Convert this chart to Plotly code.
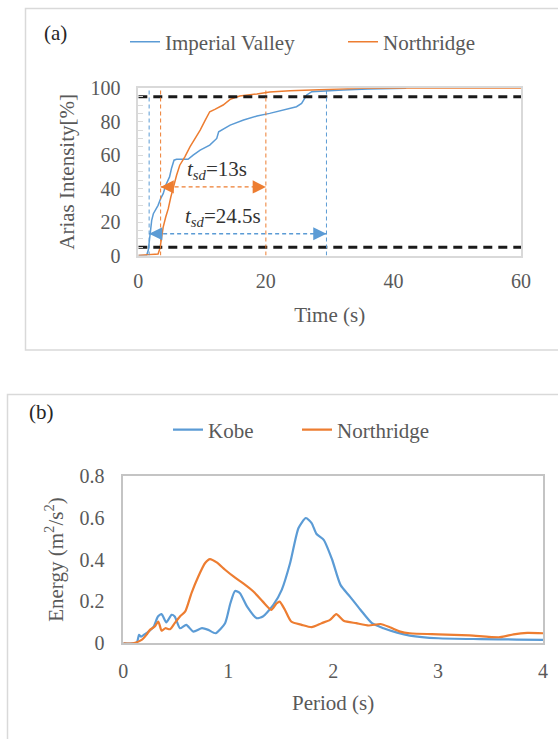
import plotly.graph_objects as go

# ---------------- data: panel (a) cumulative Arias intensity ----------------
iv_time = [0, 1.3, 1.57, 1.73, 1.94, 2.1, 2.36, 2.77, 3.1, 3.5, 3.9, 4.3, 4.9, 5.2, 5.6, 6.0,
           7.8, 8.6, 9.7, 11.2, 12.3, 12.6, 14.4, 16.5, 18.6, 20.6, 22.7, 24.8, 25.6, 26.4,
           27.2, 29.5, 32.1, 36, 42]
iv_arias = [0, 0, 3.3, 9.3, 15, 21, 25, 28, 30, 34, 37, 42, 47, 52, 57, 57.5,
            57.5, 60, 63, 66, 70, 74, 78, 81, 83.4, 85, 87, 89, 91, 96,
            98, 98.6, 99, 99.6, 100]
nr_time = [0, 3.1, 3.4, 3.66, 3.9, 4.3, 4.7, 5.1, 5.5, 6.0, 6.5, 7.3, 8.1, 8.9, 9.7, 10.5,
           11.2, 12.0, 13.3, 14.4, 15.9, 18.6, 20.6, 23.8, 26.9, 30, 35, 60]
nr_arias = [0, 0.9, 4.3, 11, 17, 23, 28, 35, 41, 48, 54, 59, 65, 70, 75, 81,
            86, 87.4, 90, 93.4, 95.4, 96.6, 97.8, 98.6, 99, 99.4, 100, 100]
thresholds = [5, 95]
time_range = [0, 60]
iv_bounds = [1.7, 29.5]
nr_bounds = [3.5, 20]
iv_arrow_level = 13
nr_arrow_level = 41
iv_label = "<i>t</i><sub><i>sd</i></sub>=24.5s"
nr_label = "<i>t</i><sub><i>sd</i></sub>=13s"
iv_label_pos = [13.3, 23]
nr_label_pos = [12.3, 51]

# ---------------- data: panel (b) energy spectra ----------------
kobe_period = [0, 0.127, 0.15, 0.17, 0.21, 0.24, 0.29, 0.33, 0.365, 0.41, 0.46, 0.49, 0.54, 0.60,
               0.667, 0.75, 0.81, 0.88, 0.97, 1.02, 1.065, 1.11, 1.18, 1.27, 1.33, 1.43, 1.51,
               1.59, 1.67, 1.74, 1.795, 1.84, 1.91, 1.99, 2.07, 2.16, 2.26, 2.37, 2.48, 2.61,
               2.73, 3.0, 3.4, 3.75, 4.0]
kobe_energy = [0, 0.003, 0.04, 0.032, 0.045, 0.056, 0.08, 0.128, 0.139, 0.10, 0.136, 0.128, 0.072,
               0.088, 0.056, 0.072, 0.064, 0.048, 0.096, 0.19, 0.25, 0.24, 0.175, 0.12, 0.128,
               0.183, 0.255, 0.383, 0.55, 0.598, 0.574, 0.523, 0.494, 0.40, 0.279, 0.223, 0.16,
               0.096, 0.072, 0.051, 0.037, 0.024, 0.02, 0.018, 0.016]
nrb_period = [0, 0.095, 0.175, 0.22, 0.254, 0.30, 0.334, 0.365, 0.40, 0.445, 0.49, 0.54, 0.59,
              0.65, 0.715, 0.78, 0.826, 0.89, 0.97, 1.05, 1.14, 1.24, 1.33, 1.41, 1.46, 1.49,
              1.54, 1.60, 1.70, 1.795, 1.89, 1.97, 2.03, 2.10, 2.22, 2.34, 2.45, 2.54, 2.64,
              2.73, 3.0, 3.3, 3.59, 3.72, 3.85, 4.0]
nrb_energy = [0, 0.0, 0.016, 0.04, 0.064, 0.08, 0.104, 0.06, 0.072, 0.067, 0.096, 0.128, 0.152,
              0.24, 0.319, 0.383, 0.402, 0.386, 0.351, 0.319, 0.287, 0.247, 0.199, 0.16, 0.19,
              0.199, 0.16, 0.104, 0.088, 0.077, 0.096, 0.112, 0.139, 0.108, 0.096, 0.085,
              0.092, 0.077, 0.056, 0.048, 0.043, 0.038, 0.029, 0.043, 0.05, 0.048]

# ---------------- styling ----------------
W, H = 558, 739
def px(x):
    return x / W
def py(y):
    return 1 - y / H

BLUE = "#5B9BD5"
ORANGE = "#ED7D31"
TXT = "#595959"
FONT = "Liberation Serif, Times New Roman, serif"

fig = go.Figure()

# panel (a)
fig.add_trace(go.Scatter(x=iv_time, y=iv_arias, mode="lines", name="Imperial Valley",
                         line=dict(color=BLUE, width=1.5), legend="legend", xaxis="x", yaxis="y"))
fig.add_trace(go.Scatter(x=nr_time, y=nr_arias, mode="lines", name="Northridge",
                         line=dict(color=ORANGE, width=1.5), legend="legend3", xaxis="x", yaxis="y"))
for th in thresholds:
    fig.add_trace(go.Scatter(x=time_range, y=[th, th], mode="lines", showlegend=False,
                             line=dict(color="#1a1a1a", width=3, dash="9px,6px"),
                             xaxis="x", yaxis="y", hoverinfo="skip"))
for bounds, col in ((iv_bounds, BLUE), (nr_bounds, ORANGE)):
    for b in bounds:
        fig.add_trace(go.Scatter(x=[b, b], y=[0, 100], mode="lines", showlegend=False,
                                 line=dict(color=col, width=1, dash="4px,3px"),
                                 xaxis="x", yaxis="y", hoverinfo="skip"))
for bounds, lvl, col in ((iv_bounds, iv_arrow_level, BLUE), (nr_bounds, nr_arrow_level, ORANGE)):
    fig.add_trace(go.Scatter(x=bounds, y=[lvl, lvl], mode="lines", showlegend=False,
                             line=dict(color=col, width=1.3, dash="4px,3px"),
                             xaxis="x", yaxis="y", hoverinfo="skip"))

annotations = []
for bounds, lvl, col in ((iv_bounds, iv_arrow_level, BLUE), (nr_bounds, nr_arrow_level, ORANGE)):
    annotations.append(dict(x=bounds[0], y=lvl, xref="x", yref="y", ax=13, ay=0, text="",
                            showarrow=True, arrowhead=2, arrowsize=1.2, arrowwidth=2.2,
                            arrowcolor=col, standoff=0))
    annotations.append(dict(x=bounds[1], y=lvl, xref="x", yref="y", ax=-13, ay=0, text="",
                            showarrow=True, arrowhead=2, arrowsize=1.2, arrowwidth=2.2,
                            arrowcolor=col, standoff=0))
for lab, pos in ((iv_label, iv_label_pos), (nr_label, nr_label_pos)):
    annotations.append(dict(x=pos[0], y=pos[1], xref="x", yref="y", text=lab, showarrow=False,
                            font=dict(family=FONT, size=21, color="#333333")))
annotations.append(dict(x=px(42), y=py(33), xref="paper", yref="paper", text="(a)",
                        showarrow=False, xanchor="left", yanchor="middle",
                        font=dict(family=FONT, size=21, color="#262626")))
annotations.append(dict(x=px(27), y=py(412), xref="paper", yref="paper", text="(b)",
                        showarrow=False, xanchor="left", yanchor="middle",
                        font=dict(family=FONT, size=21, color="#262626")))

# panel (b)
fig.add_trace(go.Scatter(x=kobe_period, y=kobe_energy, mode="lines", name="Kobe",
                         line=dict(color=BLUE, width=2.2, shape="spline", smoothing=0.6),
                         legend="legend2", xaxis="x2", yaxis="y2"))
fig.add_trace(go.Scatter(x=nrb_period, y=nrb_energy, mode="lines", name="Northridge",
                         line=dict(color=ORANGE, width=2.2, shape="spline", smoothing=0.6),
                         legend="legend4", xaxis="x2", yaxis="y2"))

tickfont = dict(family=FONT, size=20, color=TXT)
titlefont = dict(family=FONT, size=21, color=TXT)

shapes = [
    dict(type="rect", xref="paper", yref="paper", x0=px(25.5), x1=1.02, y0=py(350), y1=py(8.5),
         line=dict(color="#d9d9d9", width=1.5), layer="below"),
    dict(type="rect", xref="paper", yref="paper", x0=px(7.5), x1=1.02, y0=-0.02, y1=py(394.5),
         line=dict(color="#d9d9d9", width=1.5), layer="below"),
]

def leg(xpix, ypix):
    return dict(orientation="h", x=px(xpix), xanchor="left", y=py(ypix), yanchor="middle",
                font=dict(family=FONT, size=21, color=TXT), bgcolor="rgba(0,0,0,0)",
                borderwidth=0)

fig.update_layout(
    width=W, height=H, margin=dict(l=0, r=0, t=0, b=0, autoexpand=False),
    paper_bgcolor="white", plot_bgcolor="white",
    font=dict(family=FONT, color=TXT),
    xaxis=dict(domain=[px(138.3), px(521)], range=time_range, tickvals=[0, 20, 40, 60],
               showgrid=False, zeroline=False, showline=True, mirror=True, automargin=False,
               linecolor="#d9d9d9", linewidth=1.5, ticks="", tickfont=tickfont,
               ticklabelstandoff=7, anchor="y",
               title=dict(text="Time (s)", font=titlefont, standoff=16)),
    yaxis=dict(domain=[py(255.5), py(88.3)], range=[0, 100], tickvals=[0, 20, 40, 60, 80, 100],
               showgrid=False, zeroline=False, showline=True, mirror=True, automargin=False,
               linecolor="#d9d9d9", linewidth=1.5, ticks="inside", ticklen=5,
               tickcolor="#d9d9d9", minor=dict(ticks="inside", dtick=5, ticklen=5, tickcolor="#d9d9d9"),
               tickfont=tickfont, ticklabelstandoff=12, anchor="x",
               title=dict(text="Arias Intensity[%]", font=titlefont, standoff=10)),
    xaxis2=dict(domain=[px(123.3), px(543)], range=[0, 4], tickvals=[0, 1, 2, 3, 4],
                showgrid=False, zeroline=False, showline=True, mirror=True, automargin=False,
                linecolor="#c4c4c4", linewidth=1.5, ticks="", tickfont=tickfont,
                ticklabelstandoff=9, anchor="y2",
                title=dict(text="Period (s)", font=titlefont, standoff=14)),
    yaxis2=dict(domain=[py(643.3), py(475.7)], range=[0, 0.8], tickvals=[0, 0.2, 0.4, 0.6, 0.8],
                tickformat=".1~f",
                showgrid=False, zeroline=False, showline=True, mirror=True, automargin=False,
                linecolor="#c4c4c4", linewidth=1.5, ticks="", tickfont=tickfont,
                ticklabelstandoff=13, anchor="x2",
                title=dict(text="Energy (m<sup>2</sup>/s<sup>2</sup>)", font=titlefont, standoff=10)),
    legend=leg(125, 42),
    legend3=leg(343, 42),
    legend2=leg(168, 430),
    legend4=leg(297, 430),
    annotations=annotations, shapes=shapes, showlegend=True,
)

fig.write_html("out.html", config={"displayModeBar": False},
               post_script="document.body.style.margin='0';")
